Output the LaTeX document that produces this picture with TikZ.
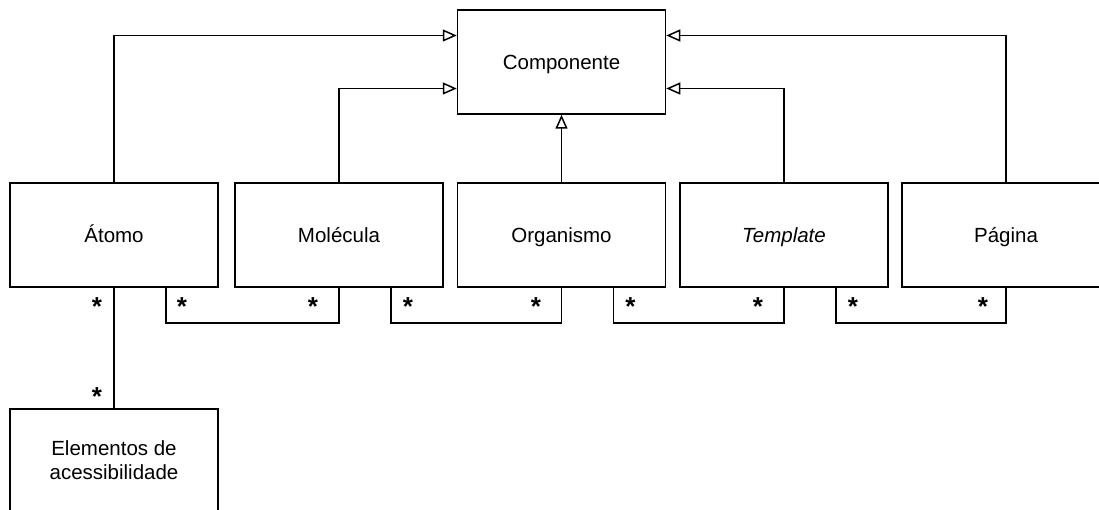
\documentclass[tikz,border=0pt]{standalone}
\usepackage{fontspec}
\setmainfont{Liberation Sans}
\usetikzlibrary{arrows.meta}
\begin{document}
\begin{tikzpicture}[x=1pt,y=-1pt,
  every node/.style={font=\fontsize{20.5}{24}\selectfont},
  cls/.style={draw,line width=1.5pt,minimum width=208pt,minimum height=104pt,inner sep=0pt,align=center,text height=17pt,text depth=1pt},
  clstwo/.style={cls,text height=41pt,text depth=4pt},
  gen/.style={line width=1.5pt,-{Triangle[open,length=14pt,width=12pt,line width=1.5pt,fill=white]}},
  assoc/.style={line width=1.5pt},
  mult/.style={font=\fontsize{26}{26}\bfseries\selectfont,inner sep=0pt,anchor=base}
]
\useasboundingbox (0,0) rectangle (1099,510);

% classes
\node[cls] (comp) at (561.5,62) {Componente};
\node[cls] (atomo) at (114,235) {Átomo};
\node[cls] (mol) at (339,235) {Molécula};
\node[cls] (org) at (561.5,235) {Organismo};
\node[cls] (tpl) at (784,235) {\itshape Template};
\node[cls] (pag) at (1006,235) {Página};
\node[clstwo] (elem) at (114,461) {Elementos de\\acessibilidade};

% generalisations towards Componente
\draw[gen] (atomo.north) |- ([yshift=26.5pt]comp.west);
\draw[gen] (mol.north) |- ([yshift=-26.5pt]comp.west);
\draw[gen] (org.north) -- (comp.south);
\draw[gen] (tpl.north) |- ([yshift=-26.5pt]comp.east);
\draw[gen] (pag.north) |- ([yshift=26.5pt]comp.east);

% associations between neighbouring levels
\draw[assoc] ([xshift=52pt]atomo.south) -- ++(0,35) -| (mol.south);
\draw[assoc] ([xshift=52pt]mol.south) -- ++(0,35) -| (org.south);
\draw[assoc] ([xshift=52pt]org.south) -- ++(0,35) -| (tpl.south);
\draw[assoc] ([xshift=52pt]tpl.south) -- ++(0,35) -| (pag.south);
\draw[assoc] (atomo.south) -- (elem.north);

% multiplicities
\node[mult] (m1) at (97,316) {*};
\node[mult] (m2) at (97,405) {*};
\node[mult] (m3) at (182,316) {*};
\node[mult] (m4) at (313,316) {*};
\node[mult] (m5) at (408,316) {*};
\node[mult] (m6) at (536,316) {*};
\node[mult] (m7) at (630.5,316) {*};
\node[mult] (m8) at (758,316) {*};
\node[mult] (m9) at (853,316) {*};
\node[mult] (m10) at (983,316) {*};
\end{tikzpicture}
\end{document}
